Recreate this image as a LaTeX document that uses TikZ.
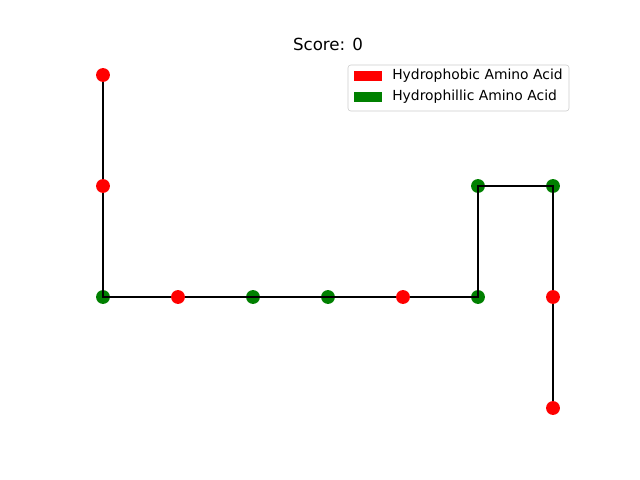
\documentclass[tikz,border=0pt]{standalone}
\usepackage{fontspec}
\setmainfont{DejaVu Sans}
\definecolor{hphob}{RGB}{255,0,0}
\definecolor{hphil}{RGB}{0,128,0}
\definecolor{legedge}{RGB}{204,204,204}
\begin{document}
\begin{tikzpicture}[x=0.72pt,y=-0.72pt,
  dot/.style={circle,inner sep=0pt,minimum size=10pt},
  phob/.style={dot,fill=hphob},
  phil/.style={dot,fill=hphil},
  bond/.style={black,line width=1.5pt},
  legpatch/.style={minimum width=20pt,minimum height=7.2pt,inner sep=0pt},
  legtext/.style={anchor=west,font=\fontsize{10}{12}\selectfont,inner sep=0pt}]
\useasboundingbox (0,0) rectangle (640,480);
% coordinates
\coordinate (p1) at (103,75);
\coordinate (p2) at (103,186);
\coordinate (p3) at (103,297);
\coordinate (p4) at (178,297);
\coordinate (p5) at (253,297);
\coordinate (p6) at (328,297);
\coordinate (p7) at (403,297);
\coordinate (p8) at (478,297);
\coordinate (p9) at (478,186);
\coordinate (p10) at (553,186);
\coordinate (p11) at (553,297);
\coordinate (p12) at (553,408);
% hydrophilic (drawn below bonds)
\foreach \p in {p3,p5,p6,p8,p9,p10} \node[phil] (n\p) at (\p) {};
% bonds
\draw[bond] (p1) -- (p2) -- (p3) -- (p4) -- (p5) -- (p6) -- (p7) -- (p8) -- (p9) -- (p10) -- (p11) -- (p12);
% hydrophobic (drawn above bonds)
\foreach \p in {p1,p2,p4,p7,p11,p12} \node[phob] (n\p) at (\p) {};
% title
\node[font=\fontsize{12}{14}\selectfont] (title) at (328,44) {Score: 0};
% legend
\draw[legedge,fill=white,rounded corners=2pt] (348,65) rectangle (569,111);
\node[legpatch,fill=hphob] (lp1) at (368,76) {};
\node[legpatch,fill=hphil] (lp2) at (368,97) {};
\node[legtext] (lt1) at (392,76) {Hydrophobic Amino Acid};
\node[legtext] (lt2) at (392,97) {Hydrophillic Amino Acid};
\end{tikzpicture}
\end{document}
